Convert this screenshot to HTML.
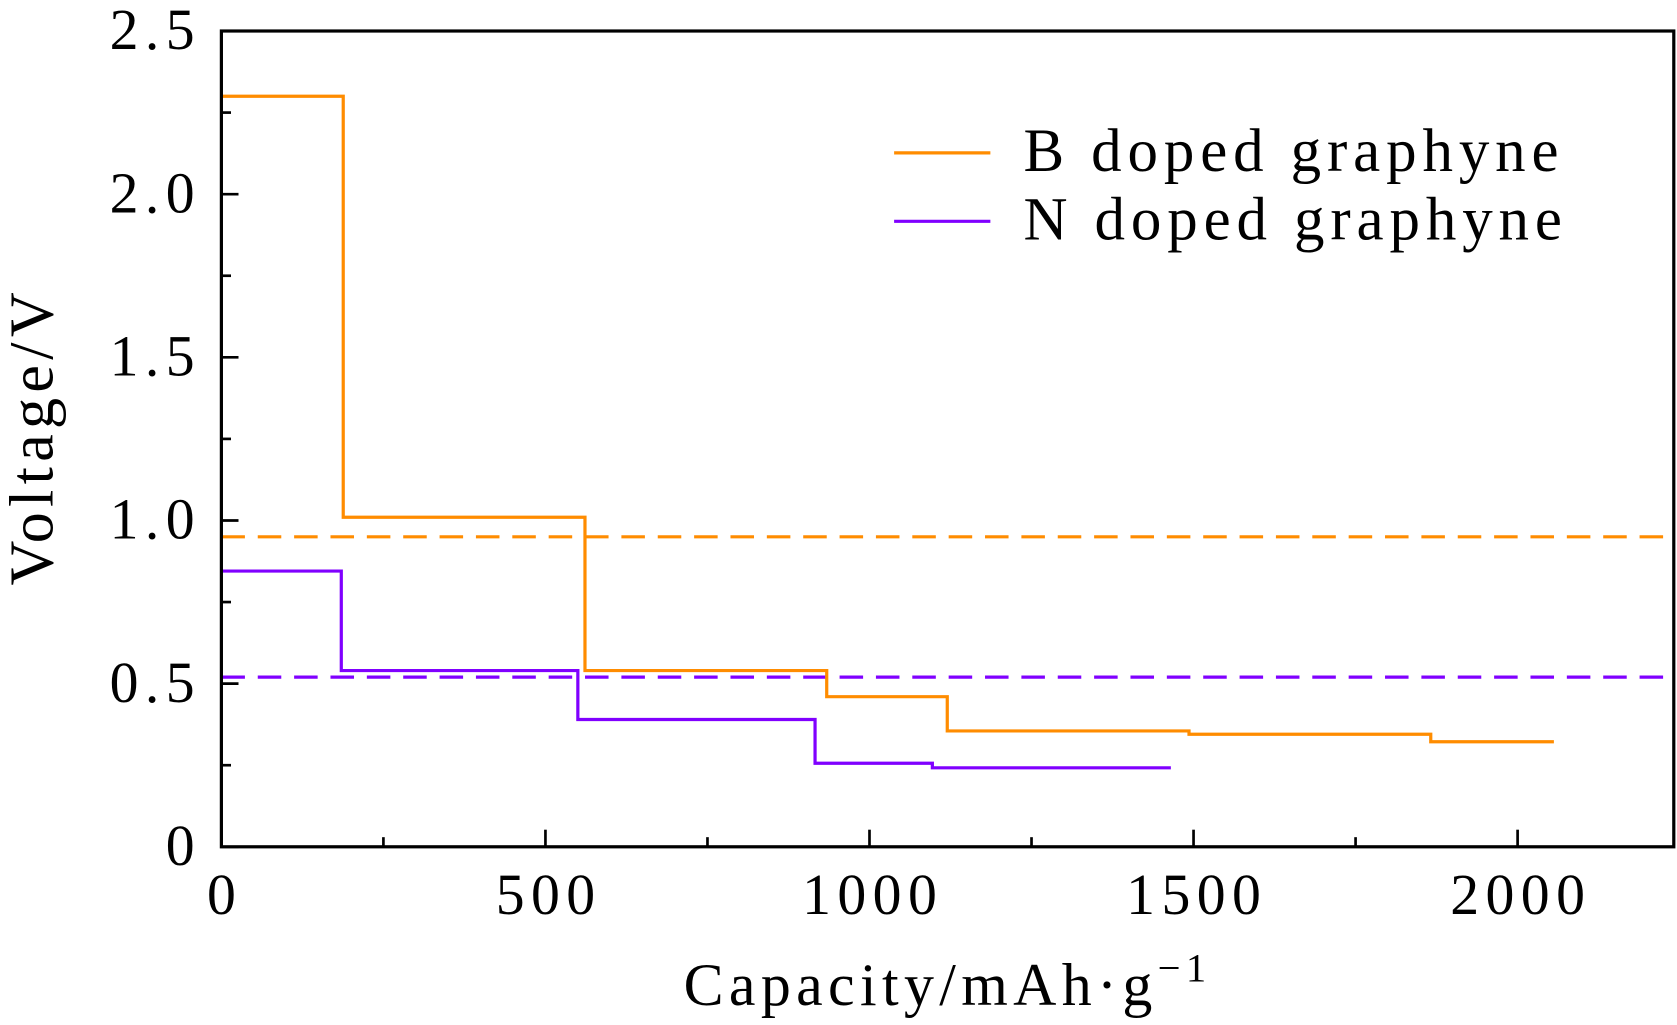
<!DOCTYPE html>
<html><head><meta charset="utf-8"><style>
html,body{margin:0;padding:0;background:#fff;}
svg text{font-family:"Liberation Serif","DejaVu Serif",serif;fill:#000;}
</style></head><body>
<svg id="chart" width="1677" height="1020" viewBox="0 0 1568 954" preserveAspectRatio="none" xmlns="http://www.w3.org/2000/svg"></svg>
<script>
const xTicks=[0,500,1000,1500,2000];
const xTickLabels=["0","500","1000","1500","2000"];
const yTicks=[0,0.5,1.0,1.5,2.0,2.5];
const yTickLabels=["0","0.5","1.0","1.5","2.0","2.5"];
const bEdges=[0,188,561,934,1120,1493,1866,2056];
const bVolts=[2.30,1.01,0.54,0.46,0.355,0.345,0.322];
const nEdges=[0,185,550,916,1097,1465];
const nVolts=[0.845,0.54,0.39,0.256,0.242];
const bAvg=0.95;
const nAvg=0.52;
const X0=207,X1=1565,Y0=792,Y1=29,XMAX=2241,YMAX=2.5;
const sx=v=>X0+(X1-X0)*v/XMAX;
const sy=v=>Y0-(Y0-Y1)*v/YMAX;
const svg=document.getElementById('chart');
const NS='http://www.w3.org/2000/svg';
function mk(tag,attrs,parent){const e=document.createElementNS(NS,tag);for(const k in attrs)e.setAttribute(k,attrs[k]);(parent||svg).appendChild(e);return e;}
function step(edges,volts){let d='';for(let i=0;i<volts.length;i++){d+=(i?'L':'M')+sx(edges[i])+','+sy(volts[i])+'L'+sx(edges[i+1])+','+sy(volts[i]);}return d;}
let e=mk('line',{x1:X0,x2:X1,y1:sy(bAvg),y2:sy(bAvg),stroke:'#ff8c00','stroke-width':3,'stroke-dasharray':'22,12'});


e=mk('line',{x1:X0,x2:X1,y1:sy(nAvg),y2:sy(nAvg),stroke:'#8000ff','stroke-width':3,'stroke-dasharray':'22,12'});


e=mk('path',{d:step(bEdges,bVolts),fill:'none',stroke:'#ff8c00','stroke-width':3});


e=mk('path',{d:step(nEdges,nVolts),fill:'none',stroke:'#8000ff','stroke-width':3});


e=mk('rect',{x:X0,y:Y1,width:X1-X0,height:Y0-Y1,fill:'none',stroke:'#000','stroke-width':3});


for(let v=0;v<=XMAX;v+=250){const major=v%500===0;mk('line',{x1:sx(v),x2:sx(v),y1:Y0,y2:Y0-(major?16:9),stroke:'#000','stroke-width':2.5});}
xTicks.forEach((v,i)=>{const t=mk('text',{x:sx(v)+3,y:855,'font-size':54,'letter-spacing':6,'text-anchor':'middle'});t.textContent=xTickLabels[i];

});
for(let v=0;v<=YMAX+1e-9;v+=0.25){const major=Math.abs(v*2-Math.round(v*2))<1e-9;mk('line',{x1:X0,x2:X0+(major?16:9),y1:sy(v),y2:sy(v),stroke:'#000','stroke-width':2.5});}
yTicks.forEach((v,i)=>{const t=mk('text',{x:188,y:sy(v)+17,'font-size':54,'letter-spacing':6,'text-anchor':'end'});t.textContent=yTickLabels[i];

});
let t=mk('text',{x:886,y:940,'font-size':56,'letter-spacing':5,'text-anchor':'middle'});
t.innerHTML='Capacity/mAh·g<tspan dy="-22" font-size="38">−1</tspan>';


t=mk('text',{x:0,y:0,'font-size':58,'letter-spacing':5,'text-anchor':'middle',transform:'translate(49,408) rotate(-90)'});
t.textContent='Voltage/V';


const leg=[['B doped graphyne','#ff8c00',143],['N doped graphyne','#8000ff',207]];
leg.forEach(l=>{const g=mk('g',{});


mk('line',{x1:836,x2:926,y1:l[2],y2:l[2],stroke:l[1],'stroke-width':3},g);
const tx=mk('text',{x:957,y:l[2]+17,'font-size':57,'letter-spacing':5.5},g);tx.textContent=l[0];});
</script>
</body></html>
